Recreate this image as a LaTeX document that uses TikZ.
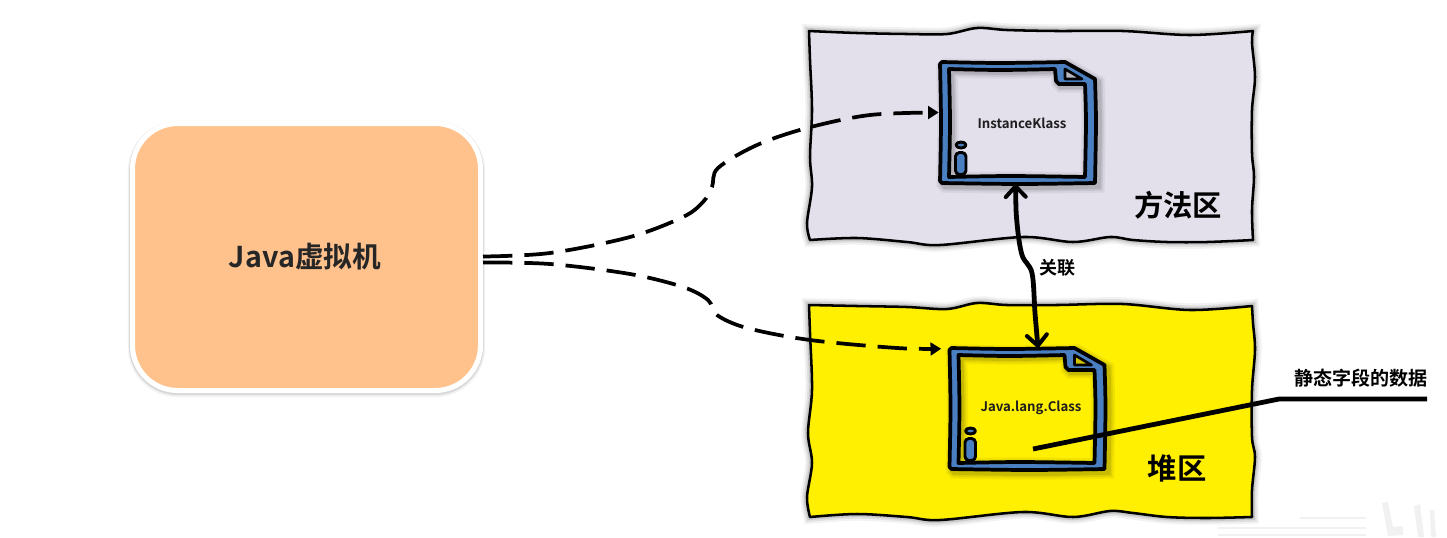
\documentclass[tikz,border=0pt]{standalone}
\usepackage{fontspec}
\setmainfont{Noto Sans CJK SC}[BoldFont=* Bold]
\usetikzlibrary{arrows.meta,calc}
\definecolor{lilacbg}{HTML}{E3DFEB}
\definecolor{yellowbg}{HTML}{FFEF00}
\definecolor{peach}{HTML}{FFC28C}
\definecolor{iconblue}{HTML}{4A7FC1}
\definecolor{inktext}{HTML}{1E1E1E}
\definecolor{wmark}{HTML}{F1F1F1}
\tikzset{
  softshadow/.style={
    preaction={draw=black,opacity=.05,line width=10pt},
    preaction={draw=black,opacity=.07,line width=7pt},
    preaction={draw=black,opacity=.10,line width=4.5pt}},
  areabox/.style={draw=black,line width=1.9pt,line join=round,softshadow},
  jvmbox/.style={draw=white,line width=3.75pt,fill=peach,rounded corners=34pt,
    minimum width=348*.75pt,minimum height=267*.75pt,inner sep=0pt,
    preaction={draw=black,opacity=.05,line width=7pt,transform canvas={yshift=-1.5pt}},
    preaction={draw=black,opacity=.10,line width=5pt,transform canvas={yshift=-1pt}}},
  pageframe/.style={minimum width=155*.75pt,minimum height=121*.75pt,inner sep=0pt},
  dashlink/.style={draw=black,line width=2.8pt,dash pattern=on 22pt off 9pt,
    -{Triangle[length=8pt,width=9.5pt]}},
  assoc/.style={draw=black,line width=3.6pt,line cap=round,
    {Straight Barb[length=8pt,width=15pt,line width=3pt,round]}-{Straight Barb[length=8pt,width=15pt,line width=3pt,round]}},
  leader/.style={draw=black,line width=3.6pt,line join=round},
  iconink/.style={draw=black,line width=2.8pt,line join=round,line cap=round},
  caption/.style={font=\bfseries\fontsize{22}{24}\selectfont,text=black,inner sep=0pt},
  smalltag/.style={font=\bfseries\fontsize{9.9}{11}\selectfont,text=inktext,inner sep=0pt},
  cntag/.style={font=\bfseries\fontsize{14.3}{16}\selectfont,text=black,inner sep=0pt},
  pics/docicon/.style={code={
    \def\outerp{plot[smooth,tension=.5] coordinates {(2,0)(60,1)(125,0)} -- (155,17)
      -- plot[smooth,tension=.5] coordinates {(155,17)(156,60)(155,121)}
      -- plot[smooth,tension=.5] coordinates {(155,121)(80,122)(2,121)}
      -- plot[smooth,tension=.5] coordinates {(0,119)(1,60)(0,2)} -- cycle}
    \def\innerp{plot[smooth,tension=.5] coordinates {(9,7)(60,8)(115,7)}
      -- (116,19) -- (119,22) -- (145,22)
      -- plot[smooth,tension=.5] coordinates {(145,22)(146,60)(145,115)}
      -- plot[smooth,tension=.5] coordinates {(145,115)(70,114)(9,115)}
      -- plot[smooth,tension=.5] coordinates {(9,115)(10,60)(9,7)} -- cycle}
    \path[softshadow,shift={(3,3)}] \outerp;
    \path[softshadow,shift={(2,2)}] \innerp;
    \fill[iconblue,even odd rule] \outerp \innerp;
    \draw[iconink] \outerp;
    \draw[iconink] \innerp;
    \filldraw[draw=black,line width=2pt,line join=round,fill=#1] (125,7) -- (142,17) -- (125,17) -- cycle;
    \fill[black,opacity=.18] (125,7) -- (142,17) -- (125,17) -- cycle;
    \filldraw[iconink,line width=2.2pt,fill=iconblue] (21,83) ellipse (5 and 3);
    \filldraw[iconink,line width=2.2pt,fill=iconblue,rounded corners=3pt] (15.5,90.5) rectangle (26,112.5);
  }}
}
\begin{document}
\begin{tikzpicture}[x=.75pt,y=-.75pt]
\useasboundingbox (0,0) rectangle (1447,537);
\fill[white] (0,0) rectangle (1447,537);

% faint watermark at the bottom right corner
\fill[wmark] (1382,503) -- (1388,502) -- (1393,527) -- (1403,526) -- (1403,535) -- (1388,536) -- cycle;
\fill[wmark] (1414,506) -- (1420,504) -- (1424,537) -- (1418,537) -- cycle;
\fill[wmark] (1430,510) -- (1434,510) -- (1436,537) -- (1431,537) -- cycle;
\draw[wmark,line width=1pt] (1218,528) -- (1366,528) (1218,535) -- (1366,535) (1300,518) -- (1366,518);

% method area
\path[areabox,fill=lilacbg]
  plot[smooth,tension=.55] coordinates {(809,31)(857,33)(907,34)(947,34)(977,28)(1007,30)(1057,31)(1123,31)(1190,35)(1253,31)}
  -- plot[smooth,tension=.55] coordinates {(1253,31)(1252,43)(1255,77)(1252,110)(1252,153)(1254,177)(1252,210)(1253,240)}
  -- plot[smooth,tension=.55] coordinates {(1253,240)(1207,242)(1167,242)(1133,240)(1110,237)(1073,242)(1023,237)(940,245)(907,242)(857,238)(810,240)}
  -- plot[smooth,tension=.55] coordinates {(810,240)(807,223)(812,187)(810,157)(812,110)(810,60)(809,31)} -- cycle;
% heap area
\path[areabox,fill=yellowbg]
  plot[smooth,tension=.55] coordinates {(809,305)(857,306)(907,307)(947,309)(977,303)(1007,305)(1057,305)(1123,304)(1190,310)(1252,306)}
  -- plot[smooth,tension=.55] coordinates {(1252,306)(1253,323)(1255,350)(1252,390)(1252,437)(1255,457)(1252,490)(1252,517)}
  -- plot[smooth,tension=.55] coordinates {(1252,517)(1207,518)(1167,517)(1133,513)(1110,511)(1073,517)(1023,512)(940,520)(907,517)(857,514)(810,517)}
  -- plot[smooth,tension=.55] coordinates {(810,517)(807,497)(812,463)(808,433)(812,390)(810,333)(809,305)} -- cycle;

% virtual machine
\node[jvmbox] (jvm) at (306.5,257) {};
\node[font=\bfseries\fontsize{21.5}{24}\selectfont,text=black!85,inner sep=0pt] (jvmlabel) at (305,257) {Java虚拟机};

% class documents
\node[pageframe] (page1) at (1017.5,122.5) {};
\node[pageframe] (page2) at (1027,408.5) {};
\pic at (940,62) {docicon=lilacbg};
\pic at (949.5,348) {docicon=yellowbg};
\node[smalltag] (klass) at (1022,123) {InstanceKlass};
\node[smalltag] (mirror) at (1031,408) {Java.lang.Class};

% area captions
\node[caption] (methodcap) at (1178,205) {方法区};
\node[caption] (heapcap) at (1177,468) {堆区};

% connectors
\coordinate (jvmup) at ($(jvm.east)+(0,-0.5)$);
\coordinate (jvmdown) at ($(jvm.east)+(0,5.5)$);
\coordinate (entry1) at ($(page1.west)+(-1,-10)$);
\coordinate (entry2) at ($(page2.north west)+(-8,1)$);
\draw[dashlink] plot[smooth,tension=.55] coordinates {(jvmup)(550,253)(630,237)(683,217)(703,202)(712,187)(718,168)(757,145)(807,128)(870,115)(entry1)};
\draw[dashlink] plot[smooth,tension=.55] coordinates {(jvmdown)(550,264)(630,274)(683,287)(708,300)(717,315)(747,328)(810,340)(897,348)(entry2)};

\coordinate (assocA) at ($(page1.south)+(-2,1)$);
\coordinate (assocB) at ($(page2.north)+(11,0)$);
\draw[assoc] plot[smooth,tension=.55] coordinates {(assocA)(1017,223)(1022,255)(1032,273)(1035,313)(assocB)};
\node[cntag,font=\bfseries\fontsize{13.5}{16}\selectfont] (assoclabel) at (1057,268) {关联};

\coordinate (leadstart) at (1033,449);
\coordinate (leadelbow) at (1279,399);
\coordinate (leadend) at (1427,399);
\draw[leader] (leadstart) -- (leadelbow) -- (leadend);
\node[cntag] (datalabel) at (1361,378) {静态字段的数据};
\end{tikzpicture}
\end{document}
